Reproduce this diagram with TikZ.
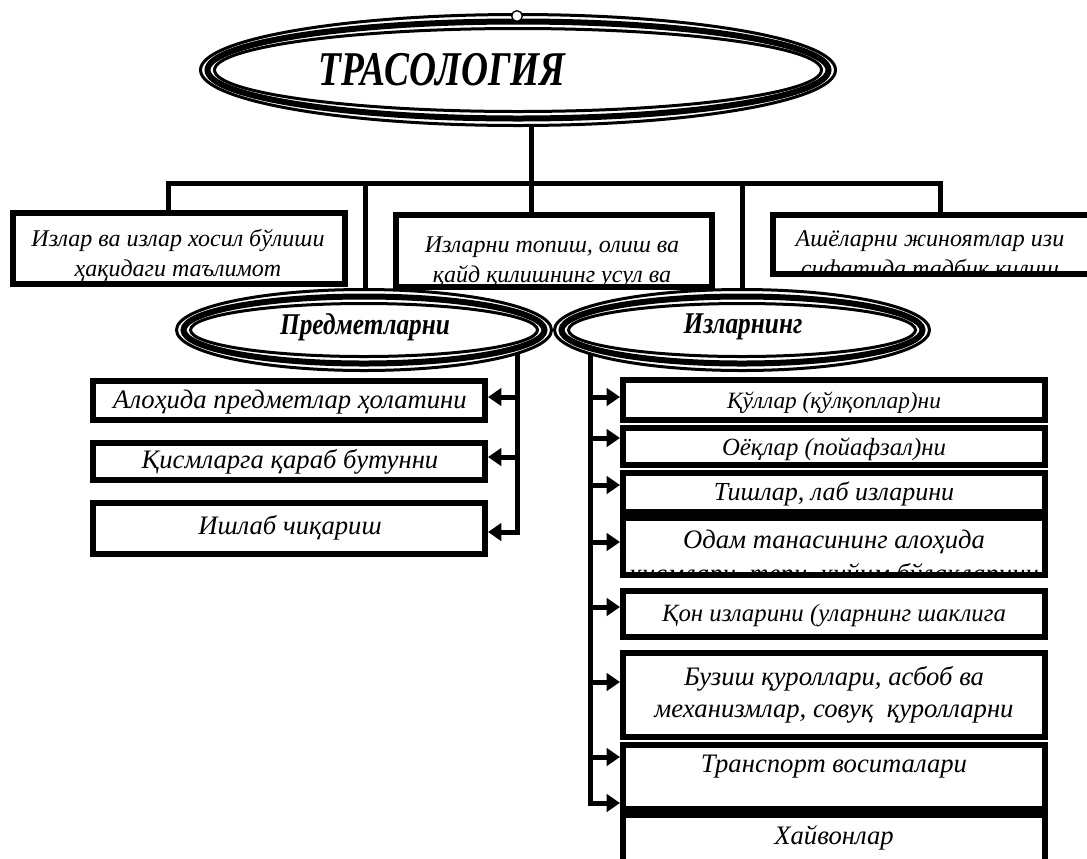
\documentclass[tikz,border=0pt]{standalone}
\usepackage{fontspec}
\setmainfont{Liberation Serif}
\newfontfamily\stretchA[FakeStretch=0.77]{Liberation Serif}
\newfontfamily\stretchB[FakeStretch=0.84]{Liberation Serif}
\usetikzlibrary{arrows.meta,shapes.geometric,fit}
\newcommand\tripleell[3]{%
  \draw[line width=2.25pt] (#1.center) ellipse [x radius={#2-1.5}, y radius={#3-1.5}];
  \draw[line width=4.5pt] (#1.center) ellipse [x radius={#2-8.5}, y radius={#3-8.5}];
  \draw[line width=2.25pt] (#1.center) ellipse [x radius={#2-15.5}, y radius={#3-15.5}];}
\begin{document}
\begin{tikzpicture}[x=0.75pt,y=-0.75pt,
  conn/.style={line width=3.75pt, line join=miter},
  arr/.style={line width=3.75pt, line join=miter, -{Triangle[length=10pt,width=13pt]}},
  frame/.style={draw, line width=4.5pt, inner sep=0pt, fit={#1}},
  ell/.style 2 args={ellipse, inner sep=0pt, minimum width={#1*1.5pt}, minimum height={#2*1.5pt}},
  upper/.style={font=\fontsize{18}{22.5}\selectfont\itshape, align=center, inner sep=0pt},
  ltxt/.style={font=\fontsize{20}{24}\selectfont\itshape, inner sep=0pt},
  rtxt/.style={font=\fontsize{#1}{24}\selectfont\itshape, align=center, inner sep=0pt},
  rtxt/.default=20,
  etxt/.style={font=\stretchB\fontsize{22.6}{26}\selectfont\bfseries\itshape, inner sep=0pt}]
\useasboundingbox (0,0) rectangle (1087,858);

% top ellipse
\node[ell={319}{57}] (top) at (518,70) {};
\tripleell{top}{319}{57}
\node[draw, circle, fill=white, line width=1pt, minimum size=8pt, inner sep=0pt] (knob) at (517,16) {};
\node[font=\stretchA\fontsize{36.4}{40}\selectfont\bfseries\itshape, inner sep=0pt] (title) at (442,70) {ТРАСОЛОГИЯ};

% second level ellipses
\node[ell={189}{42}] (pr) at (364,330) {};
\tripleell{pr}{189}{42}
\node[ell={189}{42}] (iz) at (742,330) {};
\tripleell{iz}{189}{42}
\node[etxt] (prt) at (365,327) {Предметларни};
\node[etxt] (izt) at (743,327) {Изларнинг};
\node[font=\fontsize{10}{10}\selectfont, inner sep=0pt] (dot) at (594,349) {.};

% upper boxes
\node[frame={(13,213)(345,284)}] (b1) {};
\node[upper] (t1) at (178,255) {Излар ва излар хосил бўлиши\\ҳақидаги таълимот};
\node[frame={(396,215)(712,287)}] (b2) {};
\node[upper] (t2) at (552,262) {Изларни топиш, олиш ва\\қайд қилишнинг усул ва};
\node[frame={(773,215)(1110,274)}] (b3) {};
\begin{scope}
\clip (776,218) rectangle (1100,271);
\node[upper] (t3) at (930,256) {Ашёларни жиноятлар изи\\сифатида тадбиқ қилиш};
\end{scope}

% bus
\coordinate (bl) at (168,183);
\coordinate (br) at (940,183);
\coordinate (bc) at (531,183);
\coordinate (bp) at (365,183);
\coordinate (bi) at (742,183);
\draw[conn] (b1.north -| bl) -- (bl) -- (br) -- (b3.north -| br);
\draw[conn] (top.south -| bc) -- (b2.north -| bc);
\draw[conn] (bp) -- (pr.north -| bp);
\draw[conn] (bi) -- (iz.north -| bi);

% left list
\node[frame={(93,381)(485,420)}] (l1) {};
\node[frame={(93,443)(485,480)}] (l2) {};
\node[frame={(93,503)(485,554)}] (l3) {};
\node[ltxt] (lt1) at (290,402) {Алоҳида предметлар ҳолатини};
\node[ltxt] (lt2) at (290,462) {Қисмларга қараб бутунни};
\node[ltxt] (lt3) at (290,528) {Ишлаб чиқариш};
\coordinate (lv) at (517,354);
\coordinate (la1) at (517,397);
\coordinate (la2) at (517,457);
\coordinate (la3) at (517,532);
\draw[arr] (lv) |- (l3.east |- la3);
\draw[arr] (la1) -- (l1.east |- la1);
\draw[arr] (la2) -- (l2.east |- la2);

% right list
\node[frame={(623,380)(1045,420)}] (r1) {};
\node[frame={(623,428)(1045,465)}] (r2) {};
\node[frame={(623,473)(1045,512)}] (r3) {};
\node[frame={(623,518)(1045,575)}] (r4) {};
\node[frame={(623,591)(1045,637)}] (r5) {};
\node[frame={(623,653)(1045,737)}] (r6) {};
\node[frame={(623,745)(1045,809)}] (r7) {};
\node[frame={(623,815)(1045,885)}] (r8) {};
\node[rtxt=17.5] (rt1) at (834,403) {Қўллар (қўлқоплар)ни};
\node[rtxt=18.6] (rt2) at (834,449) {Оёқлар (пойафзал)ни};
\node[rtxt=19.5] (rt3) at (834,494) {Тишлар, лаб изларини};
\begin{scope}
\clip (626,521) rectangle (1042,571);
\node[rtxt, font=\fontsize{20}{25.5}\selectfont\itshape] (rt4) at (834,559) {Одам танасининг алоҳида\\қисмлари, тери, кийим бўлакларини};
\end{scope}
\node[rtxt=18.6] (rt5) at (834,616) {Қон изларини (уларнинг шаклига};
\node[rtxt] (rt6) at (834,695) {Бузиш қуроллари, асбоб ва\\механизмлар, совуқ\ \ қуролларни};
\node[rtxt] (rt7) at (834,767) {Транспорт воситалари};
\node[rtxt] (rt8) at (834,838) {Хайвонлар};
\coordinate (rv) at (590,354);
\coordinate (ra1) at (590,397);
\coordinate (ra2) at (590,438);
\coordinate (ra3) at (590,485);
\coordinate (ra4) at (590,542);
\coordinate (ra5) at (590,607);
\coordinate (ra6) at (590,682);
\coordinate (ra7) at (590,757);
\coordinate (ra8) at (590,803);
\draw[arr] (rv) |- (r7.west |- ra8);
\draw[arr] (ra1) -- (r1.west |- ra1);
\draw[arr] (ra2) -- (r2.west |- ra2);
\draw[arr] (ra3) -- (r3.west |- ra3);
\draw[arr] (ra4) -- (r4.west |- ra4);
\draw[arr] (ra5) -- (r5.west |- ra5);
\draw[arr] (ra6) -- (r6.west |- ra6);
\draw[arr] (ra7) -- (r7.west |- ra7);
\end{tikzpicture}
\end{document}
